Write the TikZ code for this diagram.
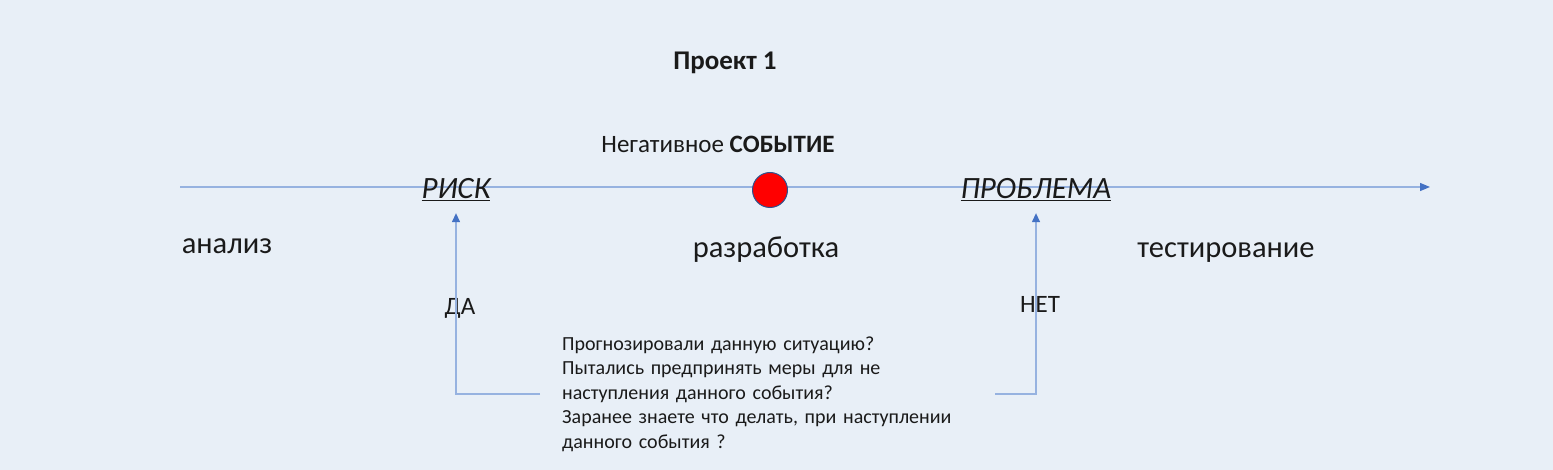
\documentclass[tikz,border=0pt]{standalone}
\usepackage{fontspec}
\setmainfont{Carlito}
\usetikzlibrary{arrows.meta}
\definecolor{bgblue}{RGB}{232,239,247}
\definecolor{axisblue}{RGB}{150,178,224}
\definecolor{tipblue}{RGB}{68,114,196}
\definecolor{ringblue}{RGB}{47,82,143}
\definecolor{ink}{RGB}{26,26,26}

\begin{document}
\begin{tikzpicture}[x=1pt,y=-1pt,
	lbl/.style={text=ink,font=\fontsize{25}{28}\selectfont},
	phase/.style={text=ink,anchor=base,font=\fontsize{30.5}{33}\selectfont},
	state/.style={text=ink,font=\fontsize{31}{33}\selectfont\itshape},
	conn/.style={draw=axisblue,line width=1.3pt,-{Triangle[length=9pt,width=8pt,color=tipblue]}}]
		\useasboundingbox[fill=bgblue] (0,0) rectangle (1553,470);
		\path
		(725,63) node[lbl,font=\fontsize{27}{29}\selectfont\bfseries](title) {Проект 1}
		(718,144) node[lbl](event) {Негативное \textbf{СОБЫТИЕ}}
		(180,187) coordinate(axs)
		(1430,187) coordinate(axe)
		(227,254) node[phase](an) {анализ}
		(766,258) node[phase](dev) {разработка}
		(1226,258) node[phase](test) {тестирование}
		(460,308) node[lbl](yes) {ДА}
		(1040,304) node[lbl](no) {НЕТ}
		(540,394) node[lbl,font=\fontsize{20}{24.5}\selectfont,anchor=west,align=left,text width=411pt,inner xsep=22pt](q) {Прогнозировали данную ситуацию?\\Пытались предпринять меры для не\\наступления данного события?\\Заранее знаете что делать, при наступлении\\данного события ?};
		\draw[axisblue,line width=1.3pt,-{Triangle[length=10pt,width=8pt,color=tipblue]}] (axs) -- (axe);
		\path
		(456,190) node[state,inner sep=0pt,outer sep=0pt](risk) {\underline{РИСК}}
		(1036,190) node[state,inner sep=0pt,outer sep=0pt](prob) {\underline{ПРОБЛЕМА}}
		(770,190) node[circle,fill=red,draw=ringblue,line width=1pt,minimum size=35pt,inner sep=0pt](ev) {};
		\draw[conn,shorten >=12pt] (q.west) -| (risk.south);
		\draw[conn,shorten >=12pt] (q.east) -| (prob.south);
	\end{tikzpicture}
\end{document}
